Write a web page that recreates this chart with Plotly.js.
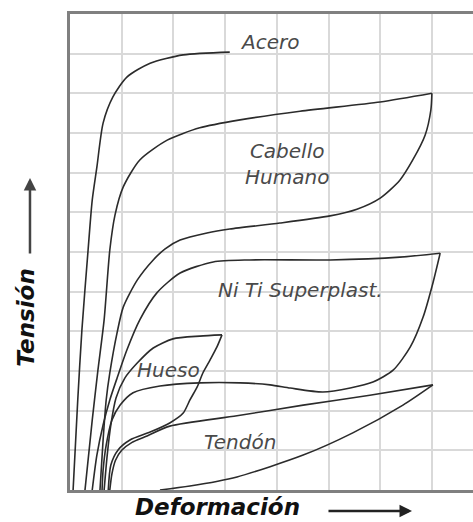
<!DOCTYPE html>
<html>
<head>
<meta charset="utf-8">
<script src="https://cdn.plot.ly/plotly-3.0.1.min.js"></script>
<style>
  html, body { margin: 0; padding: 0; background: #ffffff; }
  #chart { width: 473px; height: 522px; }
</style>
</head>
<body>
<div id="chart"></div>
<script>
// ---- Data (arbitrary units, grid = 1 unit) ----
const aceroX = [0.06, 0.15, 0.23, 0.35, 0.43, 0.52, 0.64, 0.83, 1.10, 1.55, 2.19, 3.09];
const aceroY = [0, 2.27, 4.03, 6.05, 7.31, 8.14, 9.25, 9.91, 10.41, 10.76, 10.97, 11.04];

const cabelloCargaX = [0.29, 0.43, 0.54, 0.66, 0.77, 0.87, 1.03, 1.35, 1.88, 2.51, 3.29, 4.45, 6.00, 7.00];
const cabelloCargaY = [0, 1.76, 3.02, 4.29, 6.05, 6.93, 7.64, 8.32, 8.82, 9.13, 9.33, 9.55, 9.78, 10.0];
const cabelloDescargaX = [7.00, 6.98, 6.87, 6.63, 6.38, 6.00, 5.55, 5.03, 4.06, 3.09, 2.65, 2.13, 1.84, 1.61, 1.30, 1.03, 0.91, 0.77, 0.70, 0.64, 0.58];
const cabelloDescargaY = [10.0, 9.58, 8.95, 8.32, 7.81, 7.36, 7.08, 6.91, 6.73, 6.58, 6.48, 6.30, 6.08, 5.80, 5.29, 4.61, 3.96, 2.95, 2.27, 1.26, 0];

const nitiCargaX = [0.43, 0.52, 0.64, 0.77, 0.91, 1.10, 1.35, 1.68, 2.13, 2.77, 3.48, 5.03, 6.38, 7.16];
const nitiCargaY = [0, 0.88, 1.64, 2.27, 2.82, 3.53, 4.29, 4.97, 5.47, 5.75, 5.80, 5.80, 5.87, 5.97];
const nitiDescargaX = [7.16, 7.02, 6.83, 6.58, 6.25, 5.86, 5.42, 4.89, 4.26, 3.87, 3.29, 2.51, 1.74, 1.22, 0.97, 0.81, 0.70, 0.64, 0.62];
const nitiDescargaY = [5.97, 5.22, 4.36, 3.60, 3.02, 2.72, 2.57, 2.47, 2.57, 2.65, 2.70, 2.70, 2.62, 2.45, 2.14, 1.76, 1.13, 0.50, 0];

const huesoCargaX = [0.66, 0.72, 0.79, 0.89, 1.06, 1.30, 1.61, 1.99, 2.51, 2.94];
const huesoCargaY = [0, 0.88, 1.64, 2.32, 2.82, 3.20, 3.58, 3.81, 3.88, 3.91];
const huesoDescargaX = [2.94, 2.84, 2.71, 2.57, 2.46, 2.32, 2.19, 1.93, 1.55, 1.16, 0.93, 0.79, 0.74];
const huesoDescargaY = [3.91, 3.60, 3.28, 2.95, 2.60, 2.27, 1.94, 1.69, 1.46, 1.26, 1.01, 0.63, 0];

const tendonCargaX = [0.77, 0.81, 0.88, 1.00, 1.20, 1.45, 1.93, 3.23, 4.51, 5.80, 7.02];
const tendonCargaY = [0, 0.40, 0.75, 1.00, 1.20, 1.34, 1.61, 1.87, 2.14, 2.39, 2.65];
const tendonDescargaX = [7.02, 6.44, 5.47, 4.51, 3.23, 2.32, 1.74];
const tendonDescargaY = [2.65, 2.14, 1.44, 0.88, 0.33, 0.10, 0];

// ---- Texts ----
const materialLabels = ["Acero", "Cabello<br>Humano", "Ni Ti Superplast.", "Hueso", "Tendón"];
const xTitle = "Deformación";
const yTitle = "Tensión";

// ---- Traces ----
const lineStyle = { color: "#2b2b2b", width: 1.6, shape: "spline", smoothing: 0.7 };
function curve(name, x, y) {
  return { type: "scatter", mode: "lines", name: name, x: x, y: y, line: lineStyle, hoverinfo: "name" };
}
const traces = [
  curve("Acero", aceroX, aceroY),
  curve("Cabello Humano (carga)", cabelloCargaX, cabelloCargaY),
  curve("Cabello Humano (descarga)", cabelloDescargaX, cabelloDescargaY),
  curve("Ni Ti Superplast. (carga)", nitiCargaX, nitiCargaY),
  curve("Ni Ti Superplast. (descarga)", nitiDescargaX, nitiDescargaY),
  curve("Hueso (carga)", huesoCargaX, huesoCargaY),
  curve("Hueso (descarga)", huesoDescargaX, huesoDescargaY),
  curve("Tendón (carga)", tendonCargaX, tendonCargaY),
  curve("Tendón (descarga)", tendonDescargaX, tendonDescargaY)
];

const labelFont = { family: "DejaVu Sans", size: 20, style: "italic", color: "#4a4a4a" };
const titleFont = { family: "DejaVu Sans", size: 23, weight: "bold", style: "italic", color: "#111" };
const labelPos = [[3.85, 11.29], [4.2, 8.22], [4.45, 5.04], [1.90, 3.02], [3.29, 1.21]];

const annotations = materialLabels.map((t, i) => ({
  text: t, x: labelPos[i][0], y: labelPos[i][1], xref: "x", yref: "y",
  showarrow: false, xanchor: "center", yanchor: "middle", font: labelFont
}));

annotations.push({
  text: xTitle, xref: "paper", yref: "paper", x: 0.367, y: -0.036,
  showarrow: false, xanchor: "center", yanchor: "middle", font: titleFont
});
annotations.push({
  text: yTitle, xref: "paper", yref: "paper", x: -0.108, y: 0.363, textangle: -90,
  showarrow: false, xanchor: "center", yanchor: "middle", font: titleFont
});
// arrows next to the axis titles
annotations.push({
  text: "", xref: "paper", yref: "paper", x: 0.8486, y: -0.044,
  showarrow: true, ax: -85, ay: 0, arrowhead: 2, arrowsize: 1, arrowwidth: 2.5, arrowcolor: "#222"
});
annotations.push({
  text: "", xref: "paper", yref: "paper", x: -0.0993, y: 0.6555,
  showarrow: true, ax: 0, ay: 77, arrowhead: 2, arrowsize: 1, arrowwidth: 2.5, arrowcolor: "#444"
});

const layout = {
  width: 473, height: 522,
  margin: { l: 70, r: 0, t: 14, b: 32 },
  paper_bgcolor: "#ffffff", plot_bgcolor: "#ffffff",
  showlegend: false,
  xaxis: {
    range: [0, 7.795], dtick: 1, tick0: 0, showticklabels: false, ticks: "",
    showgrid: true, gridcolor: "#d9d9d9", gridwidth: 2, zeroline: false,
    showline: true, linecolor: "#808080", linewidth: 3, mirror: true
  },
  yaxis: {
    range: [0, 12], dtick: 1, tick0: 0, showticklabels: false, ticks: "",
    showgrid: true, gridcolor: "#d9d9d9", gridwidth: 2, zeroline: false,
    showline: true, linecolor: "#808080", linewidth: 3
  },
  annotations: annotations
};

Plotly.newPlot("chart", traces, layout, { displayModeBar: false, staticPlot: true });
</script>
</body>
</html>
